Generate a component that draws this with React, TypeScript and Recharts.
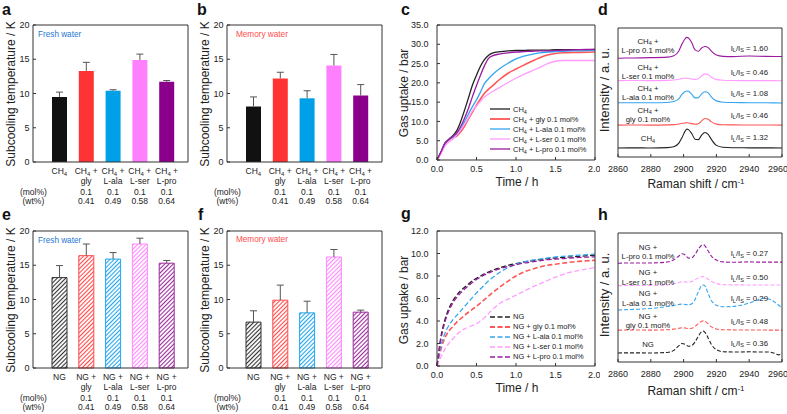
import React from "react";
import { BarChart, Bar, LineChart, Line, XAxis, YAxis, Cell, Legend } from "recharts";

const FONT = '"Liberation Sans", Arial, Helvetica, sans-serif';
const AXIS = "#333";
const TXT = "#222";

// ---- subcooling bars (panels a, b, e, f) ----
const additives = ["", "gly", "L-ala", "L-ser", "L-pro"];
const molPercent = ["", "0.1", "0.1", "0.1", "0.1"];
const wtPercent = ["", "0.41", "0.49", "0.58", "0.64"];
const barColors = ["#111111", "#ff3333", "#00a0e9", "#ff80ff", "#8b008b"];
const hatchColors = ["#333333", "#ff4a4a", "#22a6ee", "#ff88ff", "#9a2a9a"];
const subcoolTicks = [0, 5, 10, 15, 20];

const ch4Fresh = [9.5, 13.3, 10.4, 14.9, 11.7];
const ch4FreshErr = [0.7, 1.25, 0.15, 0.85, 0.2];
const ch4Memory = [8.1, 12.2, 9.3, 14.1, 9.7];
const ch4MemoryErr = [1.4, 0.9, 1.1, 1.6, 1.6];
const ngFresh = [13.2, 16.4, 15.9, 18.1, 15.3];
const ngFreshErr = [1.75, 1.7, 0.95, 0.85, 0.4];
const ngMemory = [6.7, 9.9, 8.05, 16.2, 8.15];
const ngMemoryErr = [1.65, 2.2, 1.7, 1.1, 0.3];

// ---- gas uptake (panels c, g) ----
const timeH = [0, 0.05, 0.1, 0.15, 0.2, 0.25, 0.3, 0.35, 0.4, 0.45, 0.5, 0.55, 0.6, 0.65, 0.7, 0.8, 0.9, 1.0, 1.1, 1.2, 1.3, 1.4, 1.5, 1.6, 1.8, 2.0];
const timeTicks = [0, 0.5, 1, 1.5, 2];
const lineColors = ["#222222", "#ff5656", "#35a5f0", "#ff9cff", "#9a1aa0"];

const upCH4 = [0, 2.1, 4.4, 5.4, 6.3, 7.6, 10.0, 13.0, 16.2, 19.5, 22.0, 24.3, 26.0, 27.1, 27.7, 28.1, 28.3, 28.4, 28.4, 28.5, 28.5, 28.5, 28.6, 28.6, 28.6, 28.7];
const upCH4Gly = [0, 1.9, 4.1, 5.2, 5.8, 6.2, 7.3, 8.8, 10.7, 12.5, 14.2, 15.8, 17.3, 18.3, 19.2, 21.0, 22.5, 23.6, 24.6, 25.6, 26.5, 27.2, 27.6, 27.8, 27.9, 28.0];
const upCH4Ala = [0, 2.0, 4.2, 5.3, 5.9, 6.5, 8.0, 10.0, 12.0, 13.9, 15.6, 17.6, 19.8, 21.0, 22.1, 23.8, 25.1, 26.2, 26.9, 27.4, 27.8, 28.0, 28.1, 28.2, 28.3, 28.4];
const upCH4Ser = [0, 1.7, 3.6, 4.6, 5.4, 6.5, 7.8, 9.3, 11.0, 12.8, 14.0, 15.2, 16.3, 17.1, 17.7, 18.9, 20.1, 21.2, 22.2, 23.1, 24.0, 25.0, 25.6, 25.8, 25.8, 25.8];
const upCH4Pro = [0, 2.1, 4.3, 5.3, 6.1, 7.0, 8.7, 10.9, 13.5, 16.5, 19.3, 22.0, 24.4, 26.3, 27.0, 27.5, 27.8, 28.0, 28.1, 28.2, 28.3, 28.3, 28.4, 28.5, 28.6, 28.7];

const upNG = [0, 2.6, 4.1, 5.1, 5.8, 6.3, 6.7, 7.0, 7.3, 7.6, 7.8, 8.0, 8.2, 8.35, 8.5, 8.75, 8.95, 9.1, 9.25, 9.35, 9.45, 9.55, 9.6, 9.65, 9.75, 9.85];
const upNGGly = [0, 1.5, 2.5, 3.1, 3.5, 3.9, 4.2, 4.5, 4.8, 5.05, 5.3, 5.6, 5.9, 6.2, 6.5, 7.05, 7.55, 8.0, 8.35, 8.6, 8.8, 8.95, 9.05, 9.15, 9.3, 9.4];
const upNGAla = [0, 1.8, 2.9, 3.6, 4.1, 4.5, 4.9, 5.3, 5.7, 6.1, 6.5, 6.85, 7.2, 7.55, 7.85, 8.35, 8.75, 9.05, 9.25, 9.4, 9.5, 9.6, 9.7, 9.75, 9.85, 9.95];
const upNGSer = [0, 0.8, 1.5, 2.0, 2.4, 2.8, 3.1, 3.3, 3.45, 3.6, 3.75, 4.0, 4.3, 4.65, 5.0, 5.6, 5.95, 6.3, 6.65, 7.0, 7.3, 7.6, 7.9, 8.15, 8.5, 8.75];
const upNGPro = [0, 2.4, 3.9, 4.9, 5.6, 6.1, 6.5, 6.85, 7.15, 7.45, 7.7, 7.9, 8.1, 8.25, 8.4, 8.65, 8.85, 9.0, 9.15, 9.25, 9.35, 9.45, 9.5, 9.55, 9.65, 9.7];

// ---- Raman spectra (panels d, h), offset intensities ----
const ramanTicks = [2860, 2880, 2900, 2920, 2940, 2960];
const intensityTicks = [7, 24, 41, 58, 75, 92];

const shiftD = [2860, 2870, 2880, 2890, 2894, 2897, 2899, 2901, 2902, 2903, 2905, 2907, 2909, 2911, 2913, 2915, 2917, 2920, 2924, 2930, 2940, 2950, 2960];
const ramanCH4 = [7.0, 7.1, 7.0, 7.3, 8.0, 10.5, 15.0, 20.2, 21.6, 21.2, 18.0, 13.8, 13.5, 17.0, 19.0, 17.5, 13.5, 9.0, 7.5, 7.2, 7.1, 7.1, 7.0];
const ramanCH4Gly = [24.7, 24.8, 24.7, 24.9, 25.1, 25.6, 26.1, 26.4, 26.5, 26.4, 25.9, 25.4, 25.8, 28.0, 29.9, 29.2, 27.2, 25.5, 25.0, 24.9, 24.8, 24.8, 24.7];
const ramanCH4Ala = [42.0, 42.1, 42.0, 42.3, 43.0, 45.0, 48.5, 50.8, 51.2, 50.9, 48.5, 45.8, 46.0, 49.0, 50.6, 49.7, 46.5, 43.5, 42.5, 42.2, 42.1, 42.0, 41.9];
const ramanCH4Ser = [59.2, 59.3, 59.2, 59.4, 59.7, 60.3, 60.8, 61.0, 61.0, 60.9, 60.5, 60.2, 60.7, 62.8, 64.4, 63.8, 61.8, 60.0, 59.5, 59.3, 59.2, 59.2, 59.1];
const ramanCH4Pro = [76.6, 76.8, 77.0, 77.4, 78.5, 82.0, 87.5, 91.8, 92.7, 92.2, 88.5, 83.0, 82.0, 84.5, 85.7, 84.8, 82.0, 79.0, 78.0, 77.8, 78.3, 78.0, 77.9];

const shiftH = [2860, 2870, 2880, 2890, 2894, 2897, 2899, 2901, 2903, 2905, 2907, 2909, 2911, 2912, 2913, 2915, 2917, 2920, 2924, 2930, 2935, 2940, 2945, 2948, 2952, 2956, 2958, 2960];
const ramanNG = [7.0, 7.1, 7.0, 7.4, 9.0, 12.5, 14.3, 13.6, 12.2, 12.8, 15.5, 20.0, 23.5, 23.9, 23.0, 18.5, 13.5, 9.5, 8.0, 7.8, 7.8, 7.9, 7.8, 7.8, 7.7, 6.5, 5.5, 7.0];
const ramanNGGly = [24.7, 24.8, 24.7, 25.0, 25.5, 26.1, 26.5, 26.3, 25.9, 26.2, 27.5, 29.8, 31.6, 31.9, 31.5, 29.5, 27.2, 25.6, 25.0, 24.9, 24.8, 24.8, 24.8, 24.8, 24.7, 24.7, 24.7, 24.7];
const ramanNGAla = [40.3, 40.8, 41.5, 43.0, 43.8, 44.6, 44.9, 44.6, 44.3, 45.2, 48.5, 54.5, 59.2, 59.7, 59.0, 53.0, 47.5, 44.0, 42.8, 43.0, 44.0, 45.8, 48.0, 49.4, 48.8, 46.0, 44.0, 41.6];
const ramanNGSer = [59.2, 59.3, 59.3, 59.8, 60.6, 61.6, 62.3, 62.1, 61.8, 62.5, 63.8, 65.3, 66.1, 66.2, 65.8, 64.2, 62.5, 60.8, 60.0, 59.8, 59.8, 59.7, 59.7, 59.7, 59.7, 59.7, 59.7, 59.7];
const ramanNGPro = [76.6, 76.8, 76.8, 77.5, 79.2, 82.0, 83.9, 83.0, 80.5, 80.8, 83.5, 87.5, 90.5, 90.9, 90.0, 86.0, 82.0, 79.0, 77.6, 77.3, 77.4, 77.6, 77.4, 77.4, 77.4, 77.4, 77.4, 77.4];

const ratiosCH4 = ["1.60", "0.46", "1.08", "0.46", "1.32"]; // pro, ser, ala, gly, base
const ratiosNG = ["0.27", "0.50", "0.29", "0.48", "0.36"];

function gasText(gas: string, suffix: string, sub: number) {
  if (gas === "NG") return <tspan>{"NG" + suffix}</tspan>;
  return (
    <>
      <tspan>CH</tspan>
      <tspan fontSize={sub} dy={sub * 0.3}>4</tspan>
      <tspan dy={-sub * 0.3}>{suffix}</tspan>
    </>
  );
}

function gasHtml(gas: string) {
  if (gas === "NG") return "NG";
  return (
    <>
      CH<sub style={{ fontSize: 5.5, verticalAlign: "-1.5px", lineHeight: 0 }}>4</sub>
    </>
  );
}

function CategoryTick(props: any) {
  const { x, y, payload, gas } = props;
  const i = typeof props.index === "number" ? props.index : payload.index;
  return (
    <g fill={TXT} fontSize={8.5} textAnchor="middle">
      <text x={x} y={y + 11.7}>{gasText(gas, i > 0 ? " +" : "", 6)}</text>
      {i > 0 && <text x={x} y={y + 22}>{additives[i]}</text>}
      {i > 0 && <text x={x} y={y + 32.7}>{molPercent[i]}</text>}
      {i > 0 && <text x={x} y={y + 42}>{wtPercent[i]}</text>}
      {i === 0 && <text x={x - 26} y={y + 32.7}>(mol%)</text>}
      {i === 0 && <text x={x - 26} y={y + 42}>(wt%)</text>}
    </g>
  );
}

function ErrorShape(props: any) {
  const { x, y, width, height } = props;
  const cx = x + width / 2;
  return (
    <g stroke="#555" strokeWidth={1}>
      <line x1={cx} x2={cx} y1={y + height} y2={y} />
      <line x1={cx - 3.5} x2={cx + 3.5} y1={y} y2={y} />
    </g>
  );
}

function SubcoolPanel({ gas, values, errors, hatched }: any) {
  const data = additives.map((a, i) => ({ name: i === 0 ? gas : a, v: values[i], err: errors[i] }));
  return (
    <BarChart width={201} height={210} data={data} margin={{ top: 24, right: 12, left: 0, bottom: 0 }}>
      <XAxis
        dataKey="name"
        height={48}
        interval={0}
        padding={{ left: 13, right: 8 }}
        axisLine={{ stroke: AXIS }}
        tickLine={false}
        tickSize={0}
        tickMargin={0}
        tick={<CategoryTick gas={gas} />}
      />
      <XAxis xAxisId="top" dataKey="name" orientation="top" height={1} padding={{ left: 13, right: 8 }} tick={false} tickLine={false} axisLine={{ stroke: AXIS }} />
      <YAxis
        type="number"
        domain={[0, 20]}
        ticks={subcoolTicks}
        width={33}
        tickSize={-3}
        tickMargin={6.5}
        axisLine={{ stroke: AXIS }}
        tickLine={{ stroke: AXIS }}
        tick={{ fontSize: 9, fill: TXT }}
      />
      <YAxis yAxisId="r" orientation="right" type="number" domain={[0, 20]} ticks={subcoolTicks} width={1} tick={false} tickSize={-3} axisLine={{ stroke: AXIS }} tickLine={{ stroke: AXIS }} />
      <Bar dataKey="v" stackId="s" barSize={15} isAnimationActive={false}>
        {data.map((d, i) => (
          <Cell key={d.name} fill={hatched ? `url(#hatch${i})` : barColors[i]} stroke={hatched ? hatchColors[i] : "none"} strokeWidth={1} />
        ))}
      </Bar>
      <Bar dataKey="err" stackId="s" barSize={15} isAnimationActive={false} shape={(p: any) => <ErrorShape {...p} />} />
    </BarChart>
  );
}

function UptakeLegend({ payload, gas, dashed }: any) {
  const names = [gas, gas + " + gly 0.1 mol%", gas + " + L-ala 0.1 mol%", gas + " + L-ser 0.1 mol%", gas + " + L-pro 0.1 mol%"];
  return (
    <div style={{ fontSize: 7.5, color: TXT, fontFamily: FONT }}>
      {(payload || []).map((p: any, i: number) => {
        const k = Number(String(p.dataKey).slice(1));
        const rest = names[k].slice(gas.length);
        return (
          <div key={i} style={{ display: "flex", alignItems: "center", height: 10, whiteSpace: "nowrap" }}>
            <svg width={23} height={4} style={{ flex: "none" }}>
              <line x1={0} x2={20} y1={2} y2={2} stroke={p.color} strokeWidth={k === 1 ? 1.8 : 1.3} strokeDasharray={dashed ? "5 2.5" : undefined} />
            </svg>
            <span>
              {gasHtml(gas)}
              {rest}
            </span>
          </div>
        );
      })}
    </div>
  );
}

function UptakePanel({ gas, series, yMax, yTicks, dashed, legendTop }: any) {
  const data = timeH.map((t, i) => {
    const row: any = { t };
    series.forEach((s: number[], k: number) => (row["s" + k] = s[i]));
    return row;
  });
  return (
    <LineChart width={210} height={200} data={data} margin={{ top: 24, right: 4, left: 0, bottom: 0 }}>
      <XAxis
        type="number"
        dataKey="t"
        domain={[0, 2]}
        ticks={timeTicks}
        height={40}
        tickSize={-3}
        tickMargin={9}
        tickFormatter={(v: number) => v.toFixed(1)}
        axisLine={{ stroke: AXIS }}
        tickLine={{ stroke: AXIS }}
        tick={{ fontSize: 9, fill: TXT }}
      />
      <XAxis xAxisId="top" orientation="top" type="number" dataKey="t" domain={[0, 2]} ticks={timeTicks} height={1} tick={false} tickSize={-3} axisLine={{ stroke: AXIS }} tickLine={{ stroke: AXIS }} />
      <YAxis
        type="number"
        domain={[0, yMax]}
        ticks={yTicks}
        width={47}
        tickSize={-3}
        tickMargin={11.4}
        tickFormatter={(v: number) => v.toFixed(1)}
        axisLine={{ stroke: AXIS }}
        tickLine={{ stroke: AXIS }}
        tick={{ fontSize: 9, fill: TXT }}
      />
      <YAxis yAxisId="r" orientation="right" type="number" domain={[0, yMax]} ticks={yTicks} width={1} tick={false} tickSize={-3} axisLine={{ stroke: AXIS }} tickLine={{ stroke: AXIS }} />
      <Legend
        layout="vertical"
        align="center"
        verticalAlign="middle"
        wrapperStyle={{ left: 100, top: legendTop, width: 110 }}
        content={(p: any) => <UptakeLegend {...p} gas={gas} dashed={dashed} />}
      />
      {series.map((_: number[], k: number) => (
        <Line
          key={k}
          dataKey={"s" + k}
          type="monotone"
          stroke={lineColors[k]}
          strokeWidth={k === 1 ? 1.6 : 1.3}
          strokeDasharray={dashed ? "5 2.5" : undefined}
          dot={false}
          isAnimationActive={false}
        />
      ))}
    </LineChart>
  );
}

function RamanPanel({ shift, traces, dashed }: any) {
  const data = shift.map((x: number, i: number) => {
    const row: any = { x };
    traces.forEach((s: number[], k: number) => (row["s" + k] = s[i]));
    return row;
  });
  return (
    <LineChart width={202} height={200} data={data} margin={{ top: 27, right: 4, left: 0, bottom: 0 }}>
      <XAxis
        type="number"
        dataKey="x"
        domain={[2860, 2960]}
        ticks={ramanTicks}
        height={43}
        tickSize={-3}
        tickMargin={11.7}
        axisLine={{ stroke: AXIS }}
        tickLine={{ stroke: AXIS }}
        tick={{ fontSize: 9, fill: TXT }}
      />
      <XAxis xAxisId="top" orientation="top" type="number" dataKey="x" domain={[2860, 2960]} ticks={ramanTicks} height={1} tick={false} tickSize={-3} axisLine={{ stroke: AXIS }} tickLine={{ stroke: AXIS }} />
      <YAxis type="number" domain={[0, 100]} ticks={intensityTicks} width={33} tick={false} tickSize={-3} axisLine={{ stroke: AXIS }} tickLine={{ stroke: AXIS }} />
      <YAxis yAxisId="r" orientation="right" type="number" domain={[0, 100]} ticks={intensityTicks} width={1} tick={false} tickSize={-3} axisLine={{ stroke: AXIS }} tickLine={{ stroke: AXIS }} />
      {traces.map((_: number[], k: number) => (
        <Line
          key={k}
          dataKey={"s" + k}
          type="monotone"
          stroke={lineColors[k]}
          strokeWidth={1.1}
          strokeDasharray={dashed ? "4 2" : undefined}
          dot={false}
          isAnimationActive={false}
        />
      ))}
    </LineChart>
  );
}

function RamanNotes({ gas, ratios, top }: any) {
  const names = ["L-pro", "L-ser", "L-ala", "gly"];
  const labelY = [41, 66.7, 87.7, 110];
  const ratioY = [47.7, 71.7, 92.7, 115, 137.3];
  return (
    <g fontSize={7.8} fill={TXT}>
      {names.map((n, i) => (
        <g key={n} textAnchor="middle">
          <text x={648} y={top + labelY[i] + 2.8}>{gasText(gas, " +", 5.5)}</text>
          <text x={648} y={top + labelY[i] + 12.3}>{n + " 0.1 mol%"}</text>
        </g>
      ))}
      <text x={648} y={top + 141} textAnchor="middle">{gasText(gas, "", 5.5)}</text>
      {ratios.map((r: string, i: number) => (
        <text key={i} x={768} y={top + ratioY[i] + 2.8} textAnchor="end">
          I<tspan fontSize={5.5} dy={1.6}>L</tspan>
          <tspan dy={-1.6}>/I</tspan>
          <tspan fontSize={5.5} dy={1.6}>S</tspan>
          <tspan dy={-1.6}>{" = " + r}</tspan>
        </text>
      ))}
    </g>
  );
}

const abs = (left: number, top: number): React.CSSProperties => ({ position: "absolute", left, top });

export default function App() {
  return (
    <div style={{ position: "absolute", left: 0, top: 0, width: 787, height: 414, background: "#fff", fontFamily: FONT, overflow: "hidden" }}>
      <svg width={0} height={0} style={{ position: "absolute" }}>
        <defs>
          {hatchColors.map((c, i) => (
            <pattern key={i} id={`hatch${i}`} patternUnits="userSpaceOnUse" width={3} height={3} patternTransform="rotate(45)">
              <rect width={3} height={3} fill="#fff" />
              <line x1={1.5} x2={1.5} y1={0} y2={3} stroke={c} strokeWidth={1.1} />
            </pattern>
          ))}
        </defs>
      </svg>

      <div style={abs(0, 0)}>
        <SubcoolPanel gas="CH4" values={ch4Fresh} errors={ch4FreshErr} />
      </div>
      <div style={abs(194, 0)}>
        <SubcoolPanel gas="CH4" values={ch4Memory} errors={ch4MemoryErr} />
      </div>
      <div style={abs(0, 206)}>
        <SubcoolPanel gas="NG" values={ngFresh} errors={ngFreshErr} hatched />
      </div>
      <div style={abs(194, 206)}>
        <SubcoolPanel gas="NG" values={ngMemory} errors={ngMemoryErr} hatched />
      </div>

      <div style={abs(390, 0)}>
        <UptakePanel
          gas="CH4"
          series={[upCH4, upCH4Gly, upCH4Ala, upCH4Ser, upCH4Pro]}
          yMax={35}
          yTicks={[0, 5, 10, 15, 20, 25, 30, 35]}
          legendTop={104.3}
        />
      </div>
      <div style={abs(390, 206)}>
        <UptakePanel
          gas="NG"
          series={[upNG, upNGGly, upNGAla, upNGSer, upNGPro]}
          yMax={12}
          yTicks={[0, 2, 4, 6, 8, 10, 12]}
          dashed
          legendTop={105.7}
        />
      </div>

      <div style={abs(585, 0)}>
        <RamanPanel shift={shiftD} traces={[ramanCH4, ramanCH4Gly, ramanCH4Ala, ramanCH4Ser, ramanCH4Pro]} />
      </div>
      <div style={abs(585, 205)}>
        <RamanPanel shift={shiftH} traces={[ramanNG, ramanNGGly, ramanNGAla, ramanNGSer, ramanNGPro]} dashed />
      </div>

      <svg width={787} height={414} style={{ position: "absolute", left: 0, top: 0, pointerEvents: "none" }}>
        <g fontSize={16} fontWeight="bold" fill="#111">
          <text x={2} y={15}>a</text>
          <text x={197} y={15}>b</text>
          <text x={401} y={15}>c</text>
          <text x={598} y={15}>d</text>
          <text x={2} y={220}>e</text>
          <text x={198} y={220}>f</text>
          <text x={401} y={219}>g</text>
          <text x={598} y={220}>h</text>
        </g>
        <g fontSize={12} fill={TXT} textAnchor="middle">
          <text x={14.5} y={94} transform="rotate(-90 14.5 94)">Subcooling temperature / K</text>
          <text x={209} y={94} transform="rotate(-90 209 94)">Subcooling temperature / K</text>
          <text x={14.5} y={300} transform="rotate(-90 14.5 300)">Subcooling temperature / K</text>
          <text x={209} y={300} transform="rotate(-90 209 300)">Subcooling temperature / K</text>
          <text x={407.5} y={93} transform="rotate(-90 407.5 93)">Gas uptake / bar</text>
          <text x={407.5} y={300} transform="rotate(-90 407.5 300)">Gas uptake / bar</text>
          <text x={517} y={186}>Time / h</text>
          <text x={517} y={392}>Time / h</text>
          <text x={609} y={90} fontSize={13} transform="rotate(-90 609 90)">Intensity / a. u.</text>
          <text x={609} y={295} fontSize={13} transform="rotate(-90 609 295)">Intensity / a. u.</text>
          <text x={696} y={188}>
            Raman shift / cm<tspan fontSize={8} dy={-4}>-1</tspan>
          </text>
          <text x={696} y={395}>
            Raman shift / cm<tspan fontSize={8} dy={-4}>-1</tspan>
          </text>
        </g>
        <g fontSize={8.2}>
          <text x={38} y={36.5} fill="#1f78d1">Fresh water</text>
          <text x={236} y={36.5} fill="#ff4d4d">Memory water</text>
          <text x={38} y={243} fill="#1f78d1">Fresh water</text>
          <text x={236} y={242} fill="#ff4d4d">Memory water</text>
        </g>
        <RamanNotes gas="CH4" ratios={ratiosCH4} top={0} />
        <RamanNotes gas="NG" ratios={ratiosNG} top={205.7} />
      </svg>
    </div>
  );
}
